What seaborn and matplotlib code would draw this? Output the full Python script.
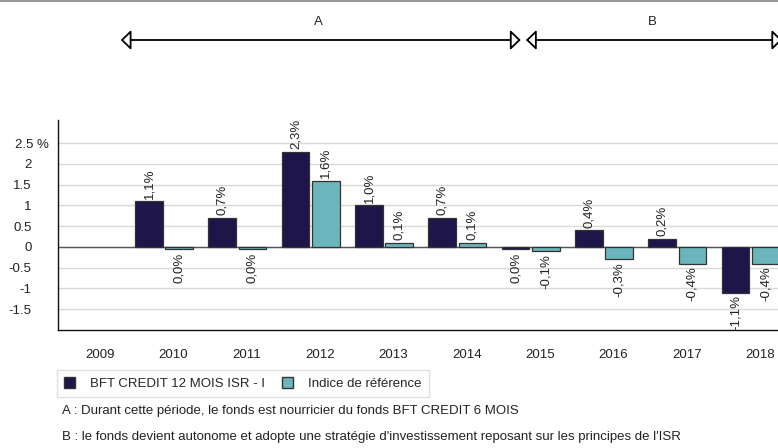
import numpy as np
import matplotlib
matplotlib.use("Agg")
import matplotlib.pyplot as plt
import matplotlib.transforms as mtransforms
from matplotlib.patches import Patch
from matplotlib.lines import Line2D
import pandas as pd
import seaborn as sns

# donnees
years = ["2009", "2010", "2011", "2012", "2013", "2014", "2015", "2016", "2017", "2018"]
bar_years = years[1:]
fund = [1.1, 0.7, 2.3, 1.0, 0.7, -0.06, 0.4, 0.2, -1.1]
bench = [-0.06, -0.06, 1.6, 0.1, 0.1, -0.1, -0.3, -0.4, -0.4]
fund_labels = ["1,1%", "0,7%", "2,3%", "1,0%", "0,7%", "0,0%", "0,4%", "0,2%", "-1,1%"]
bench_labels = ["0,0%", "0,0%", "1,6%", "0,1%", "0,1%", "-0,1%", "-0,3%", "-0,4%", "-0,4%"]
series_names = ["BFT CREDIT 12 MOIS ISR - I", "Indice de référence"]
yticks = [-1.5, -1, -0.5, 0, 0.5, 1, 1.5, 2, 2.5]
ytick_labels = ["-1.5", "-1", "-0.5", "0", "0.5", "1", "1.5", "2", ""]
top_label = "2.5 %"
periods = ["A", "B"]
notes = ["A : Durant cette période, le fonds est nourricier du fonds BFT CREDIT 6 MOIS",
         "B : le fonds devient autonome et adopte une stratégie d'investissement reposant sur les principes de l'ISR"]

dark = "#1e1548"
teal = "#6bb5bd"

sns.set_style("white")
plt.rcParams["font.family"] = ["Liberation Sans", "DejaVu Sans"]

df = pd.DataFrame({
    "Année": bar_years * 2,
    "Performance": fund + bench,
    "Série": [series_names[0]] * len(bar_years) + [series_names[1]] * len(bar_years),
})

fig = plt.figure(figsize=(7.78, 4.48), dpi=100)
W, H = 778, 448
ax = fig.add_axes([58 / W, 1 - 330 / H, 1 - 58 / W, (330 - 120) / H])

sns.barplot(data=df, x="Année", y="Performance", hue="Série", order=years,
            hue_order=series_names, palette=[dark, teal], saturation=1, width=0.82, gap=0.08,
            edgecolor="#333333", linewidth=0.9, errorbar=None, legend=False, ax=ax)

for cont, labs in zip(ax.containers, [fund_labels, bench_labels]):
    ax.bar_label(cont, labels=labs, rotation=90, padding=2, fontsize=9.5, color="#222222")

ax.set_xlim(-0.446, 9.373)
ax.set_ylim(-2.0, 3.06)
ax.set_xlabel("")
ax.set_ylabel("")
ax.set_yticks(yticks)
ax.set_yticklabels(ytick_labels, fontsize=9.5)
ax.annotate(top_label, xy=(0, yticks[-1]), xycoords=("axes fraction", "data"),
            xytext=(-9, 0), textcoords="offset pixels", ha="right", va="center_baseline",
            fontsize=9.5, color="#222222", annotation_clip=False)
ax.yaxis.grid(True, color="#d9d9d9", lw=1)
ax.set_axisbelow(True)
ax.axhline(0, color="#555555", lw=1, zorder=0.9)

# traits au bord des groupes, libelles un peu decales a droite
ax.set_xticks(np.arange(len(years)) + 0.04)
ax.set_xticklabels([])
ax.set_xticks(np.arange(len(years)) + 0.13, minor=True)
ax.set_xticklabels(years, minor=True, fontsize=9.5)
ax.tick_params(axis="x", which="major", length=4, width=1, color="#444444")
ax.tick_params(axis="x", which="minor", length=0, pad=14, labelcolor="#222222")
ax.tick_params(axis="y", length=5, width=1, color="#444444", pad=14, labelcolor="#222222")
for s in ["top", "right"]:
    ax.spines[s].set_visible(False)
for s in ["left", "bottom"]:
    ax.spines[s].set_color("#111111")
    ax.spines[s].set_linewidth(1)

# fleches des periodes
trans = mtransforms.blended_transform_factory(ax.transData, fig.transFigure)
arrow_y = 1 - 40 / H
spans = [(0.409, 5.864), (5.936, 9.43)]
for name, (x0, x1) in zip(periods, spans):
    ax.annotate("", xy=(x1, arrow_y), xytext=(x0, arrow_y), xycoords=trans,
                textcoords=trans, annotation_clip=False,
                arrowprops=dict(arrowstyle="<|-|>,head_length=0.62,head_width=0.6",
                                mutation_scale=10, shrinkA=0, shrinkB=0,
                                fc="white", ec="black", lw=1.3))
    ax.text((x0 + x1) / 2 - 0.03, 1 - 22 / H, name, transform=trans,
            ha="center", va="center", fontsize=9.5, color="#222222")

fig.add_artist(Line2D([0, 1], [1 - 1 / H, 1 - 1 / H], transform=fig.transFigure,
                      color="#999999", lw=1.5))

handles = [Patch(facecolor=dark, edgecolor="#333333"), Patch(facecolor=teal, edgecolor="#333333")]
fig.legend(handles, series_names, loc="upper left", bbox_to_anchor=(57 / W, 1 - 370 / H),
           ncol=2, frameon=True, fancybox=False, edgecolor="#d9d9d9", fontsize=9.5,
           handlelength=0.85, handleheight=0.85, handletextpad=1.1, columnspacing=1.3,
           borderpad=0.55, borderaxespad=0)

for i, note in enumerate(notes):
    fig.text(62 / W, 1 - (411 + 26 * i) / H, note, ha="left", va="center",
             fontsize=9.5, color="#222222")

fig.savefig("out.png", dpi=100)
